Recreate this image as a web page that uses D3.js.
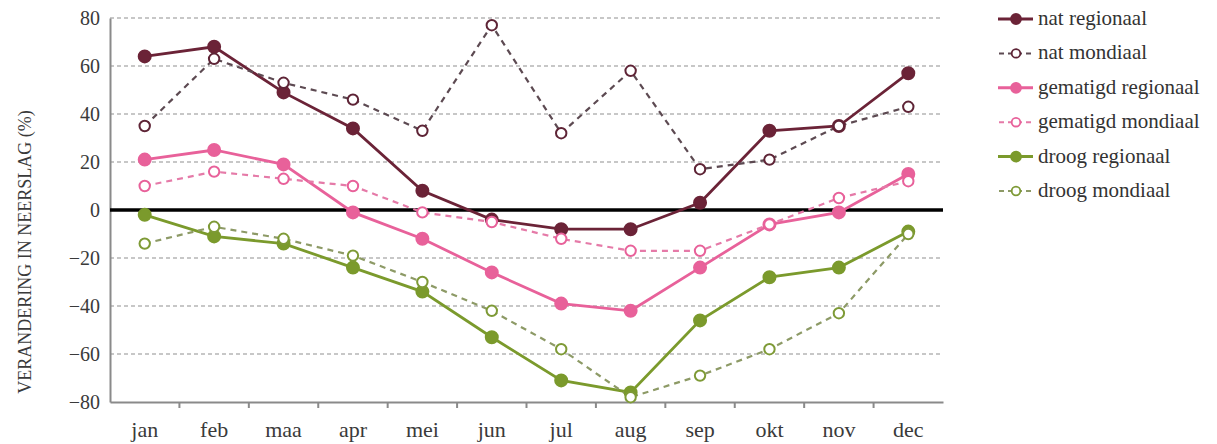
<!DOCTYPE html>
<html><head><meta charset="utf-8">
<script src="https://cdn.jsdelivr.net/npm/d3@7"></script>
<style>
body{margin:0;background:#fff;}
</style></head>
<body><svg id="c" width="1217" height="444"></svg>
<script>
const months = ["jan","feb","maa","apr","mei","jun","jul","aug","sep","okt","nov","dec"];
const yTicks = [-80,-60,-40,-20,0,20,40,60,80];
const natRegionaal = [64,68,49,34,8,-4,-8,-8,3,33,35,57];
const natMondiaal = [35,63,53,46,33,77,32,58,17,21,35,43];
const gematigdRegionaal = [21,25,19,-1,-12,-26,-39,-42,-24,-6,-1,15];
const gematigdMondiaal = [10,16,13,10,-1,-5,-12,-17,-17,-6,5,12];
const droogRegionaal = [-2,-11,-14,-24,-34,-53,-71,-76,-46,-28,-24,-9];
const droogMondiaal = [-14,-7,-12,-19,-30,-42,-58,-78,-69,-58,-43,-10];
const seriesNames = ["nat regionaal","nat mondiaal","gematigd regionaal","gematigd mondiaal","droog regionaal","droog mondiaal"];
const yTitle = "VERANDERING IN NEERSLAG (%)";

const series = [
  {name:seriesNames[0], values:natRegionaal, color:"#6b2337", line:"#6b2337", filled:true},
  {name:seriesNames[1], values:natMondiaal, color:"#5e2436", line:"#5d4a52", filled:false},
  {name:seriesNames[2], values:gematigdRegionaal, color:"#e8619a", line:"#e8619a", filled:true},
  {name:seriesNames[3], values:gematigdMondiaal, color:"#e8619a", line:"#e57aa8", filled:false},
  {name:seriesNames[4], values:droogRegionaal, color:"#7b9a2c", line:"#7b9a2c", filled:true},
  {name:seriesNames[5], values:droogMondiaal, color:"#7e9a36", line:"#8d9a66", filled:false}
];

const FONT = "'Liberation Serif','Times New Roman',serif";
const svg = d3.select("#c");

const L=110, R=943, T=18, B=402;
const x = d3.scaleBand().domain(months).range([L,R]);
const y = d3.scaleLinear().domain([-80,80]).range([B,T]);
const cx = m => x(m)+x.bandwidth()/2;

svg.append("g").selectAll("line").data(yTicks.filter(d=>d!==0 && d!==-80)).join("line")
  .attr("x1",L).attr("x2",R).attr("y1",d=>y(d)).attr("y2",d=>y(d))
  .attr("stroke","#b5b5b5").attr("stroke-width",1.3).attr("stroke-dasharray","4,3");

const ya = svg.append("g").attr("transform",`translate(${L},0)`)
  .call(d3.axisLeft(y).tickValues(yTicks).tickSize(0).tickPadding(10));
ya.select(".domain").attr("stroke","#8a8a8a").attr("stroke-width",2);
ya.selectAll("text").attr("font-size",20).attr("fill","#3a3a3a").style("font-family",FONT);

const xa = svg.append("g").attr("transform",`translate(0,${B})`)
  .call(d3.axisBottom(x).tickSize(0).tickPadding(19));
xa.select(".domain").attr("stroke","#8a8a8a").attr("stroke-width",2);
xa.selectAll("text").attr("font-size",22).attr("fill","#3a3a3a").style("font-family",FONT);
svg.append("g").selectAll("line").data(months.slice(1)).join("line")
  .attr("x1",d=>x(d)).attr("x2",d=>x(d)).attr("y1",B).attr("y2",B+6)
  .attr("stroke","#8a8a8a").attr("stroke-width",2);

svg.append("line").attr("x1",L).attr("x2",R).attr("y1",y(0)).attr("y2",y(0))
  .attr("stroke","#000").attr("stroke-width",3.5);

svg.append("text").attr("transform",`translate(31,252) rotate(-90)`)
  .attr("text-anchor","middle").attr("font-size",18).attr("fill","#3a3a3a")
  .style("font-family",FONT).text(yTitle);

const line = d3.line().x((d,i)=>cx(months[i])).y(d=>y(d));
series.forEach(s=>{
  svg.append("path").datum(s.values).attr("d",line).attr("fill","none")
    .attr("stroke",s.line).attr("stroke-width",s.filled?2.8:2.2)
    .attr("stroke-dasharray",s.filled?null:"6,5");
});
series.forEach(s=>{
  svg.append("g").selectAll("circle").data(s.values).join("circle")
    .attr("cx",(d,i)=>cx(months[i])).attr("cy",d=>y(d))
    .attr("r",s.filled?6:5.2)
    .attr("fill",s.filled?s.color:"#fff")
    .attr("stroke",s.color).attr("stroke-width",2);
});

const lg = svg.append("g");
series.forEach((s,i)=>{
  const yy = 19 + i*34.4;
  lg.append("line").attr("x1",998).attr("x2",1033).attr("y1",yy).attr("y2",yy)
    .attr("stroke",s.line).attr("stroke-width",s.filled?3:2)
    .attr("stroke-dasharray",s.filled?null:"5,4").attr("stroke-dashoffset",s.filled?0:-1);
  lg.append("circle").attr("cx",1016).attr("cy",yy).attr("r",s.filled?5:4.3)
    .attr("fill",s.filled?s.color:"#fff").attr("stroke",s.color).attr("stroke-width",1.8);
  lg.append("text").attr("x",1038).attr("y",yy+6).attr("font-size",21)
    .attr("fill","#333").style("font-family",FONT).text(s.name);
});
</script></body></html>
